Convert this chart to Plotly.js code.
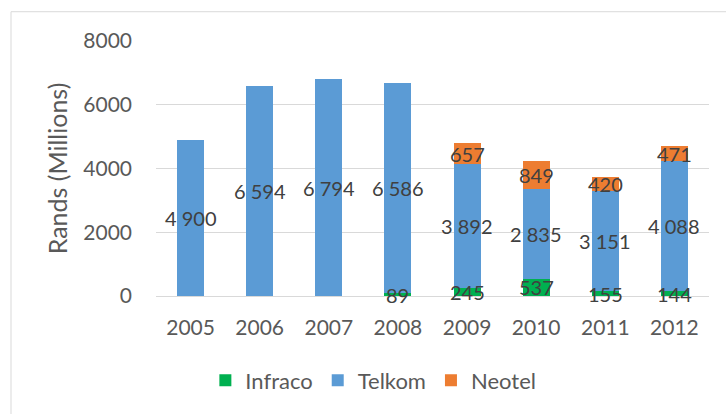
<!DOCTYPE html>
<html>
<head>
<meta charset="utf-8">
<script src="https://cdn.plot.ly/plotly-3.0.1.min.js"></script>
<style>html,body{margin:0;padding:0;background:#fff;}#chart{width:726px;height:414px;}</style>
</head>
<body>
<div id="chart"></div>
<script>
const years = ['2005','2006','2007','2008','2009','2010','2011','2012'];
const infraco = [null, null, null, 89, 245, 537, 155, 144];
const telkom = [4900, 6594, 6794, 6586, 3892, 2835, 3151, 4088];
const neotel = [null, null, null, null, 657, 849, 420, 471];
const yTicks = [0, 2000, 4000, 6000, 8000];

const FONT = 'Lato, Calibri, Carlito, sans-serif';
const colors = {Infraco:'#00b050', Telkom:'#5b9bd5', Neotel:'#ed7d31'};

function fmt(v){ return String(v).replace(/\B(?=(\d{3})+(?!\d))/g, ' '); }

const series = [['Infraco', infraco], ['Telkom', telkom], ['Neotel', neotel]];
const traces = series.map(([name, vals]) => ({
  type:'bar', name:name, x:years, y:vals,
  marker:{color:colors[name]}, hoverinfo:'x+y+name'
}));

const annotations = [];
const base = years.map(() => 0);
series.forEach(([name, vals]) => {
  vals.forEach((v, i) => {
    if (v == null) return;
    annotations.push({
      x: i, y: base[i] + v/2, xref:'x', yref:'y',
      text: fmt(v), showarrow:false,
      font:{family:FONT, size:20, color:'#404040'}
    });
    base[i] += v;
  });
});

const L = 155.6, R = 709, T = 41, B = 298;
const W = 726, H = 414;
const px = X => (X - L) / (R - L);
const py = Y => (B - Y) / (B - T);

const layout = {
  width:W, height:H,
  margin:{l:L, r:W-R, t:T, b:H-B},
  paper_bgcolor:'#ffffff', plot_bgcolor:'#ffffff',
  barmode:'stack', bargap:0.61,
  font:{family:FONT, color:'#595959'},
  showlegend:true,
  legend:{orientation:'h', x:px(205), xanchor:'left', y:py(383), yanchor:'middle',
          font:{family:FONT, size:22, color:'#595959'}, traceorder:'normal'},
  xaxis:{type:'category', range:[-0.5, years.length-0.5], showgrid:false, showline:false, zeroline:false, ticks:'',
         tickfont:{family:FONT, size:21, color:'#595959'}, ticklabelstandoff:17},
  yaxis:{range:[0,8000], tickvals:yTicks, ticktext:yTicks.map(String), showgrid:true, gridcolor:'#d9d9d9', gridwidth:1,
         zeroline:true, zerolinecolor:'#d9d9d9', zerolinewidth:1, showline:false, ticks:'',
         tickfont:{family:FONT, size:21, color:'#595959'}, ticklabelstandoff:23,
         title:{text:'Rands (Millions)', font:{family:FONT, size:25, color:'#595959'}, standoff:8}},
  annotations:annotations,
  shapes:[
    {type:'line', xref:'paper', yref:'paper', x0:px(10.5), x1:px(730), y0:py(11.5), y1:py(11.5), line:{color:'#d9d9d9', width:1}},
    {type:'line', xref:'paper', yref:'paper', x0:px(10.5), x1:px(10.5), y0:py(11.5), y1:py(420), line:{color:'#d9d9d9', width:1}}
  ]
};

Plotly.newPlot('chart', traces, layout, {displayModeBar:false, staticPlot:true});
</script>
</body>
</html>
